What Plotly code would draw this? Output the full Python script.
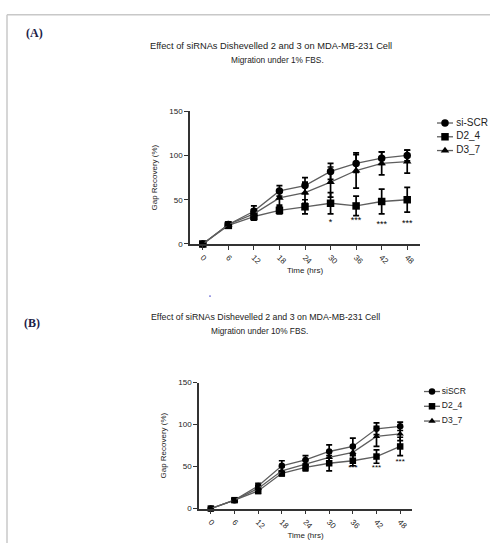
import plotly.graph_objects as go

time_hrs = [0, 6, 12, 18, 24, 30, 36, 42, 48]
tick_labels = ["0", "6", "12", "18", "24", "30", "36", "42", "48"]

# Panel A (1% FBS)
a_scr = [0, 22, 37, 60, 66, 82, 91, 97, 100]
a_scr_err = [0, 3, 6, 6, 9, 9, 10, 7, 6]
a_d24 = [0, 21, 31, 38, 42, 46, 43, 48, 50]
a_d24_err = [0, 3, 4, 4, 8, 12, 11, 14, 14]
a_d37 = [0, 22, 34, 52, 58, 70, 83, 91, 93]
a_d37_err = [0, 3, 5, 8, 12, 17, 20, 13, 13]
a_stars_x = [30, 36, 42, 48]
a_stars = ["*", "***", "***", "***"]
a_stars_y = [24, 26, 22, 23]

# Panel B (10% FBS)
b_scr = [0, 10, 27, 51, 58, 68, 74, 95, 98]
b_scr_err = [0, 2, 3, 6, 5, 8, 10, 7, 5]
b_d24 = [0, 10, 21, 42, 49, 54, 57, 62, 74]
b_d24_err = [0, 2, 3, 3, 4, 9, 6, 8, 11]
b_d37 = [0, 10, 24, 45, 53, 61, 67, 86, 89]
b_d37_err = [0, 2, 3, 5, 5, 7, 8, 12, 8]
b_stars_x = [36, 42, 48]
b_stars = ["***", "***", "***"]
b_stars_y = [48, 48, 55]

names_a = ["si-SCR", "D2_4", "D3_7"]
names_b = ["siSCR", "D2_4", "D3_7"]
symbols = ["circle", "square", "triangle-up"]

W, H = 490, 548
def fx(px):
    return px / W
def fy(py):
    return 1 - py / H

fig = go.Figure()

LINE_COLOR = "#5e5e5e"

def add_series(xa, ya, vals, errs, name, sym, msize):
    fig.add_trace(go.Scatter(
        x=time_hrs, y=vals, name=name, xaxis=xa, yaxis=ya,
        mode="lines+markers", showlegend=False,
        line=dict(color=LINE_COLOR, width=1.3),
        marker=dict(symbol=sym, size=msize, color="black"),
        error_y=dict(type="data", array=errs, color="black", thickness=1.7, width=3),
        cliponaxis=False,
    ))

for v, e, n, s in zip([a_scr, a_d24, a_d37], [a_scr_err, a_d24_err, a_d37_err], names_a, symbols):
    add_series("x", "y", v, e, n, s, 7.5)
for v, e, n, s in zip([b_scr, b_d24, b_d37], [b_scr_err, b_d24_err, b_d37_err], names_b, symbols):
    add_series("x2", "y2", v, e, n, s, 6.5)

fig.add_trace(go.Scatter(x=a_stars_x, y=a_stars_y, text=a_stars, mode="text",
                         textfont=dict(size=9, color="black", family="Liberation Sans"),
                         xaxis="x", yaxis="y", showlegend=False, cliponaxis=False))
fig.add_trace(go.Scatter(x=b_stars_x, y=b_stars_y, text=b_stars, mode="text",
                         textfont=dict(size=8, color="black", family="Liberation Sans"),
                         xaxis="x2", yaxis="y2", showlegend=False, cliponaxis=False))

# Manual legends on an overlay axis in pixel units
def add_legend(names, x0, y0, dy, msize, fsize):
    for i, (n, s) in enumerate(zip(names, symbols)):
        yy = y0 + i * dy
        fig.add_trace(go.Scatter(x=[x0, x0 + 16], y=[yy, yy], mode="lines",
                                 line=dict(color=LINE_COLOR, width=1.3),
                                 xaxis="x3", yaxis="y3", showlegend=False, hoverinfo="skip"))
        fig.add_trace(go.Scatter(x=[x0 + 8], y=[yy], mode="markers+text", text=["  " + n],
                                 textposition="middle right",
                                 textfont=dict(size=fsize, color="#222", family="Liberation Sans"),
                                 marker=dict(symbol=s, size=msize, color="black"),
                                 xaxis="x3", yaxis="y3", showlegend=False, cliponaxis=False))

add_legend(names_a, 437, 121, 14, 7.5, 10)
add_legend(names_b, 424, 394, 15, 6.5, 8.5)

axis_common = dict(showline=True, linecolor="#333", linewidth=1.5, ticks="outside",
                   ticklen=4, tickwidth=1.2, tickcolor="#333", showgrid=False, zeroline=False,
                   tickfont=dict(size=8, color="#222", family="Liberation Sans"))

fig.update_layout(
    width=W, height=H, margin=dict(l=0, r=0, t=0, b=0),
    plot_bgcolor="rgba(0,0,0,0)", paper_bgcolor="white",
    font=dict(family="Liberation Sans", color="#222"),
    showlegend=False,
    xaxis=dict(domain=[fx(190), fx(420)], range=[-3, 51], anchor="y",
               tickvals=time_hrs, ticktext=tick_labels, tickangle=45,
               title=dict(text="Time (hrs)", font=dict(size=8), standoff=2), **axis_common),
    yaxis=dict(domain=[fy(244), fy(109)], range=[0, 150], anchor="x",
               tickvals=[0, 50, 100, 150],
               title=dict(text="Gap Recovery (%)", font=dict(size=8), standoff=10), **axis_common),
    xaxis2=dict(domain=[fx(199), fx(412)], range=[-3, 51], anchor="y2",
                tickvals=time_hrs, ticktext=tick_labels, tickangle=45,
                title=dict(text="Time (hrs)", font=dict(size=8), standoff=1), **axis_common),
    yaxis2=dict(domain=[fy(513), fy(385)], range=[0, 150], anchor="x2",
                tickvals=[0, 50, 100, 150],
                title=dict(text="Gap Recovery (%)", font=dict(size=8), standoff=10), **axis_common),
    xaxis3=dict(domain=[0, 1], range=[0, W], visible=False, fixedrange=True),
    yaxis3=dict(domain=[0, 1], range=[H, 0], visible=False, fixedrange=True, anchor="x3"),
)

def text_at(txt, px, py, size, color="#222", family="Liberation Sans", xanchor="center"):
    fig.add_annotation(text=txt, x=fx(px), y=fy(py), xref="paper", yref="paper",
                       xanchor=xanchor, yanchor="middle", showarrow=False,
                       font=dict(size=size, family=family, color=color))

text_at("<b>(A)</b>", 24, 29, 12, "#1c2147", "Liberation Serif", "left")
text_at("Effect of siRNAs Dishevelled 2 and 3 on MDA-MB-231 Cell", 271, 43, 9.3)
text_at("Migration under 1% FBS.", 277, 57, 8.3)
text_at("<b>(B)</b>", 22, 324, 12, "#1c2147", "Liberation Serif", "left")
text_at("Effect of siRNAs Dishevelled 2 and 3 on MDA-MB-231 Cell", 265, 318, 8.8)
text_at("Migration under 10% FBS.", 259, 332, 8.3)

# page border lines and small scan artifact dot
fig.add_shape(type="line", xref="paper", yref="paper", x0=fx(7), x1=1, y0=fy(11), y1=fy(11),
              line=dict(color="#c8c8c8", width=1.5))
fig.add_shape(type="line", xref="paper", yref="paper", x0=fx(7), x1=fx(7), y0=fy(11), y1=0,
              line=dict(color="#c8c8c8", width=1.5))
fig.add_shape(type="circle", xref="paper", yref="paper", x0=fx(209), x1=fx(211),
              y0=fy(298), y1=fy(296), line=dict(width=0), fillcolor="#7b7bdc")

fig.write_html("out.html", config={"displayModeBar": False},
               post_script="document.body.style.margin='0px';")
